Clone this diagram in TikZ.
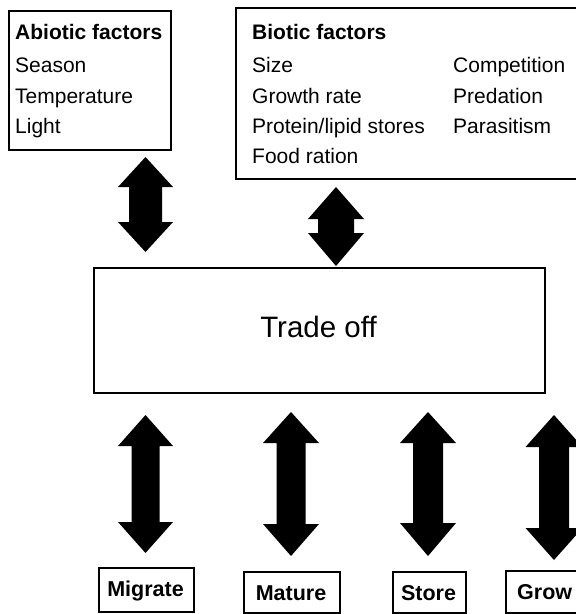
\documentclass[tikz,border=0pt]{standalone}
\usepackage{fontspec}
\setmainfont{Liberation Sans}
\newcommand\fatarrow[7]{% x, top tip, top head base, bottom head base, bottom tip, head half width, shaft half width
  \fill (#1,-#2) -- (#1+#6,-#3) -- (#1+#7,-#3) -- (#1+#7,-#4) -- (#1+#6,-#4) -- (#1,-#5)
    -- (#1-#6,-#4) -- (#1-#7,-#4) -- (#1-#7,-#3) -- (#1-#6,-#3) -- cycle;}
\begin{document}
\begin{tikzpicture}[x=1pt,y=1pt,
  box/.style={draw, line width=1.8pt, rectangle, inner sep=0pt, anchor=north west},
  txt/.style={anchor=base west, inner sep=0pt, font=\fontsize{21}{24}\selectfont},
  btxt/.style={anchor=base, inner sep=0pt, font=\fontsize{21.5}{24}\selectfont\bfseries},
  big/.style={anchor=base, inner sep=0pt, font=\fontsize{29.5}{34}\selectfont}]
\clip (0,0) rectangle (576,-614);
\fill[white] (0,0) rectangle (576,-614);
% boxes
\node[box, minimum width=162pt, minimum height=139pt] (abiotic) at (8,-10) {};
\node[box, minimum width=360pt, minimum height=171pt] (biotic) at (235,-7) {};
\node[box, minimum width=451pt, minimum height=125pt] (trade) at (93,-267) {};
\node[box, minimum width=95pt, minimum height=44pt] (migrate) at (98,-567) {};
\node[box, minimum width=96pt, minimum height=41pt] (mature) at (243,-571) {};
\node[box, minimum width=73pt, minimum height=41pt] (store) at (392,-571) {};
\node[box, minimum width=95pt, minimum height=42pt] (grow) at (505,-570) {};
% abiotic text
\node[txt, font=\fontsize{21}{24}\selectfont\bfseries] (ab0) at (15,-39) {Abiotic factors};
\node[txt] (ab1) at (15,-72) {Season};
\node[txt] (ab2) at (15,-103) {Temperature};
\node[txt] (ab3) at (15,-133) {Light};
% biotic text
\node[txt, font=\fontsize{21}{24}\selectfont\bfseries] (bi0) at (252,-39) {Biotic factors};
\node[txt] (bi1) at (252,-72) {Size};
\node[txt] (bi2) at (252,-103) {Growth rate};
\node[txt] (bi3) at (252,-133) {Protein/lipid stores};
\node[txt] (bi4) at (252,-163) {Food ration};
\node[txt] (bi5) at (453,-72) {Competition};
\node[txt] (bi6) at (453,-103) {Predation};
\node[txt] (bi7) at (453,-133) {Parasitism};
% trade off
\node[big] (tradetext) at (318.5,-337) {Trade off};
% bottom labels
\node[btxt] (migratetext) at (145.5,-596) {Migrate};
\node[btxt] (maturetext) at (291,-600) {Mature};
\node[btxt] (storetext) at (428.5,-600) {Store};
\node[btxt, anchor=base west] (growtext) at (517,-599) {Grow};
% arrows
\fatarrow{145.5}{157}{187}{222}{252}{27.5}{16.5}
\fatarrow{336}{187}{219}{233}{266}{28}{18}
\fatarrow{145.5}{415}{446}{522}{553}{27.5}{14}
\fatarrow{291}{412}{443}{524}{556}{28}{14.5}
\fatarrow{428}{412}{443}{523}{556}{28}{15}
\fatarrow{554}{415}{447}{528}{560}{28.5}{15}
\end{tikzpicture}
\end{document}
